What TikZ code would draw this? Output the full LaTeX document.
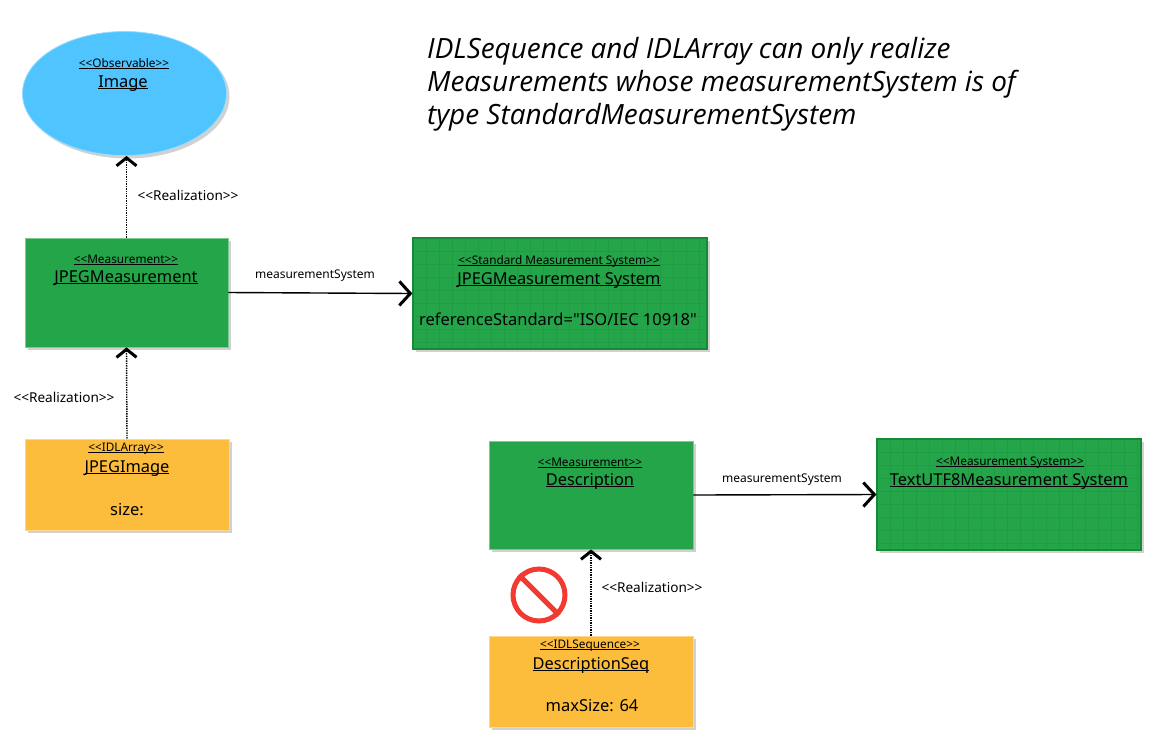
\documentclass[tikz,border=0pt]{standalone}
\usepackage{fontspec}
\setmainfont{Noto Sans}[Ligatures=TeXOff]
\newfontfamily\NoteFont{Open Sans}
\usetikzlibrary{arrows.meta,shadows,shapes.geometric}
\definecolor{MeasureClr}{HTML}{25A549}
\definecolor{SystemLineClr}{HTML}{178A35}
\definecolor{GridClr}{HTML}{209C44}
\definecolor{ImageClr}{HTML}{4FC4FF}
\definecolor{ArrayClr}{HTML}{FDBD3C}
\definecolor{StopClr}{HTML}{F23A33}
\newcommand\ulined[1]{\underline{\smash{#1}}}
\tikzset{
  shaded box/.style={drop shadow={shadow xshift=3pt,shadow yshift=-3pt,fill=black!40,opacity=.45},inner sep=0pt},
  measure/.style={shaded box,rectangle,fill=MeasureClr,draw=MeasureClr!60!white,line width=.8pt},
  idlbox/.style={shaded box,rectangle,fill=ArrayClr,draw=ArrayClr!60!white,line width=.8pt},
  system/.style={shaded box,rectangle,fill=MeasureClr,draw=SystemLineClr,line width=1.2pt,
    path picture={
      \foreach \gx in {0,13,...,320}
        \draw[GridClr,line width=.6pt] ([xshift=\gx pt]path picture bounding box.north west) -- ([xshift=\gx pt]path picture bounding box.south west);
      \foreach \gy in {0,13,...,120}
        \draw[GridClr,line width=.6pt] ([yshift=-\gy pt]path picture bounding box.north west) -- ([yshift=-\gy pt]path picture bounding box.north east);
    }},
  stereo/.style={font=\fontsize{11.8}{13}\selectfont,inner sep=0pt,anchor=base},
  classname/.style={font=\fontsize{16.4}{18}\selectfont,inner sep=0pt,anchor=base},
  attr/.style={font=\fontsize{16.5}{18}\selectfont,inner sep=0pt},
  tag/.style={font=\fontsize{12}{16}\selectfont,inner sep=0pt},
  realtag/.style={font=\fontsize{13.6}{16}\selectfont,inner sep=0pt},
  realize/.style={line width=1.4pt,densely dotted,-{Straight Barb[line width=3pt,length=8pt,width=20pt]}},
  assoc/.style={line width=1.4pt,-{Straight Barb[line width=3pt,length=11pt,width=24pt]}}
}
\begin{document}
\begin{tikzpicture}[x=1pt,y=-1pt]
\useasboundingbox (0,0) rectangle (1153,745);

% boxes
\node[ellipse,shaded box,fill=ImageClr,draw=ImageClr!60!white,line width=.8pt,minimum width=204pt,minimum height=124pt] (image) at (124.5,93.5) {};
\node[measure,minimum width=203pt,minimum height=109pt] (jpegM) at (126.5,292.5) {};
\node[system,minimum width=294pt,minimum height=111pt] (jpegS) at (560,293.5) {};
\node[idlbox,minimum width=204pt,minimum height=91pt] (jpegA) at (127,484.5) {};
\node[measure,minimum width=204pt,minimum height=108pt] (descM) at (591,495) {};
\node[system,minimum width=264pt,minimum height=111pt] (textS) at (1009,494.5) {};
\node[idlbox,minimum width=204pt,minimum height=91pt] (descQ) at (591,681.5) {};

% texts of the boxes
\node[stereo] (imageT) at (124,67) {\ulined{<<Observable>>}};
\node[classname] (imageN) at (123,87) {\ulined{Image}};
\node[stereo] (jpegMT) at (126,263) {\ulined{<<Measurement>>}};
\node[classname] (jpegMN) at (126,282) {\ulined{JPEGMeasurement}};
\node[stereo] (jpegST) at (559,264) {\ulined{<<Standard Measurement System>>}};
\node[classname] (jpegSN) at (559,284) {\ulined{JPEGMeasurement System}};
\node[attr] (jpegSA) at (558,319) {referenceStandard="ISO/IEC 10918"};
\node[stereo] (jpegAT) at (126,451) {\ulined{<<IDLArray>>}};
\node[classname] (jpegAN) at (127,472) {\ulined{JPEGImage}};
\node[attr] (jpegAA) at (127,510) {size:};
\node[stereo] (descMT) at (590,466) {\ulined{<<Measurement>>}};
\node[classname] (descMN) at (590,485) {\ulined{Description}};
\node[stereo] (textST) at (1010,465) {\ulined{<<Measurement System>>}};
\node[classname] (textSN) at (1009,485) {\ulined{TextUTF8Measurement System}};
\node[stereo] (descQT) at (590,648) {\ulined{<<IDLSequence>>}};
\node[classname] (descQN) at (591,669) {\ulined{DescriptionSeq}};
\node[attr] (descQA) at (592,706) {maxSize: 64};

% connectors
\draw[realize] (jpegM.north) -- (image.south -| jpegM.north);
\draw[realize] (jpegA.north) -- (jpegM.south);
\draw[realize] (descQ.north) -- (descM.south);
\draw[assoc] (jpegM.east) -- (jpegS.west);
\draw[assoc] (descM.east) -- (textS.west);

% connector labels
\node[realtag] (lab1) at (188,195) {<<Realization>>};
\node[realtag] (lab2) at (64,397) {<<Realization>>};
\node[realtag] (lab3) at (652,587) {<<Realization>>};
\node[tag] (lab4) at (315,276) {measurementSystem};
\node[tag] (lab5) at (782,480) {measurementSystem};

% forbidden sign
\node[circle,draw=StopClr,line width=5pt,fill=white,minimum size=52pt,inner sep=0pt] (stop) at (539,595) {};
\draw[StopClr,line width=5pt] (stop.135) -- (stop.-45);

% note
\node[anchor=north west,align=left,inner sep=0pt,font=\NoteFont\itshape\fontsize{27.9}{33}\selectfont] (note) at (427,37.5) {IDLSequence and IDLArray can only realize\\Measurements whose measurementSystem is of\\type StandardMeasurementSystem};
\end{tikzpicture}
\end{document}
